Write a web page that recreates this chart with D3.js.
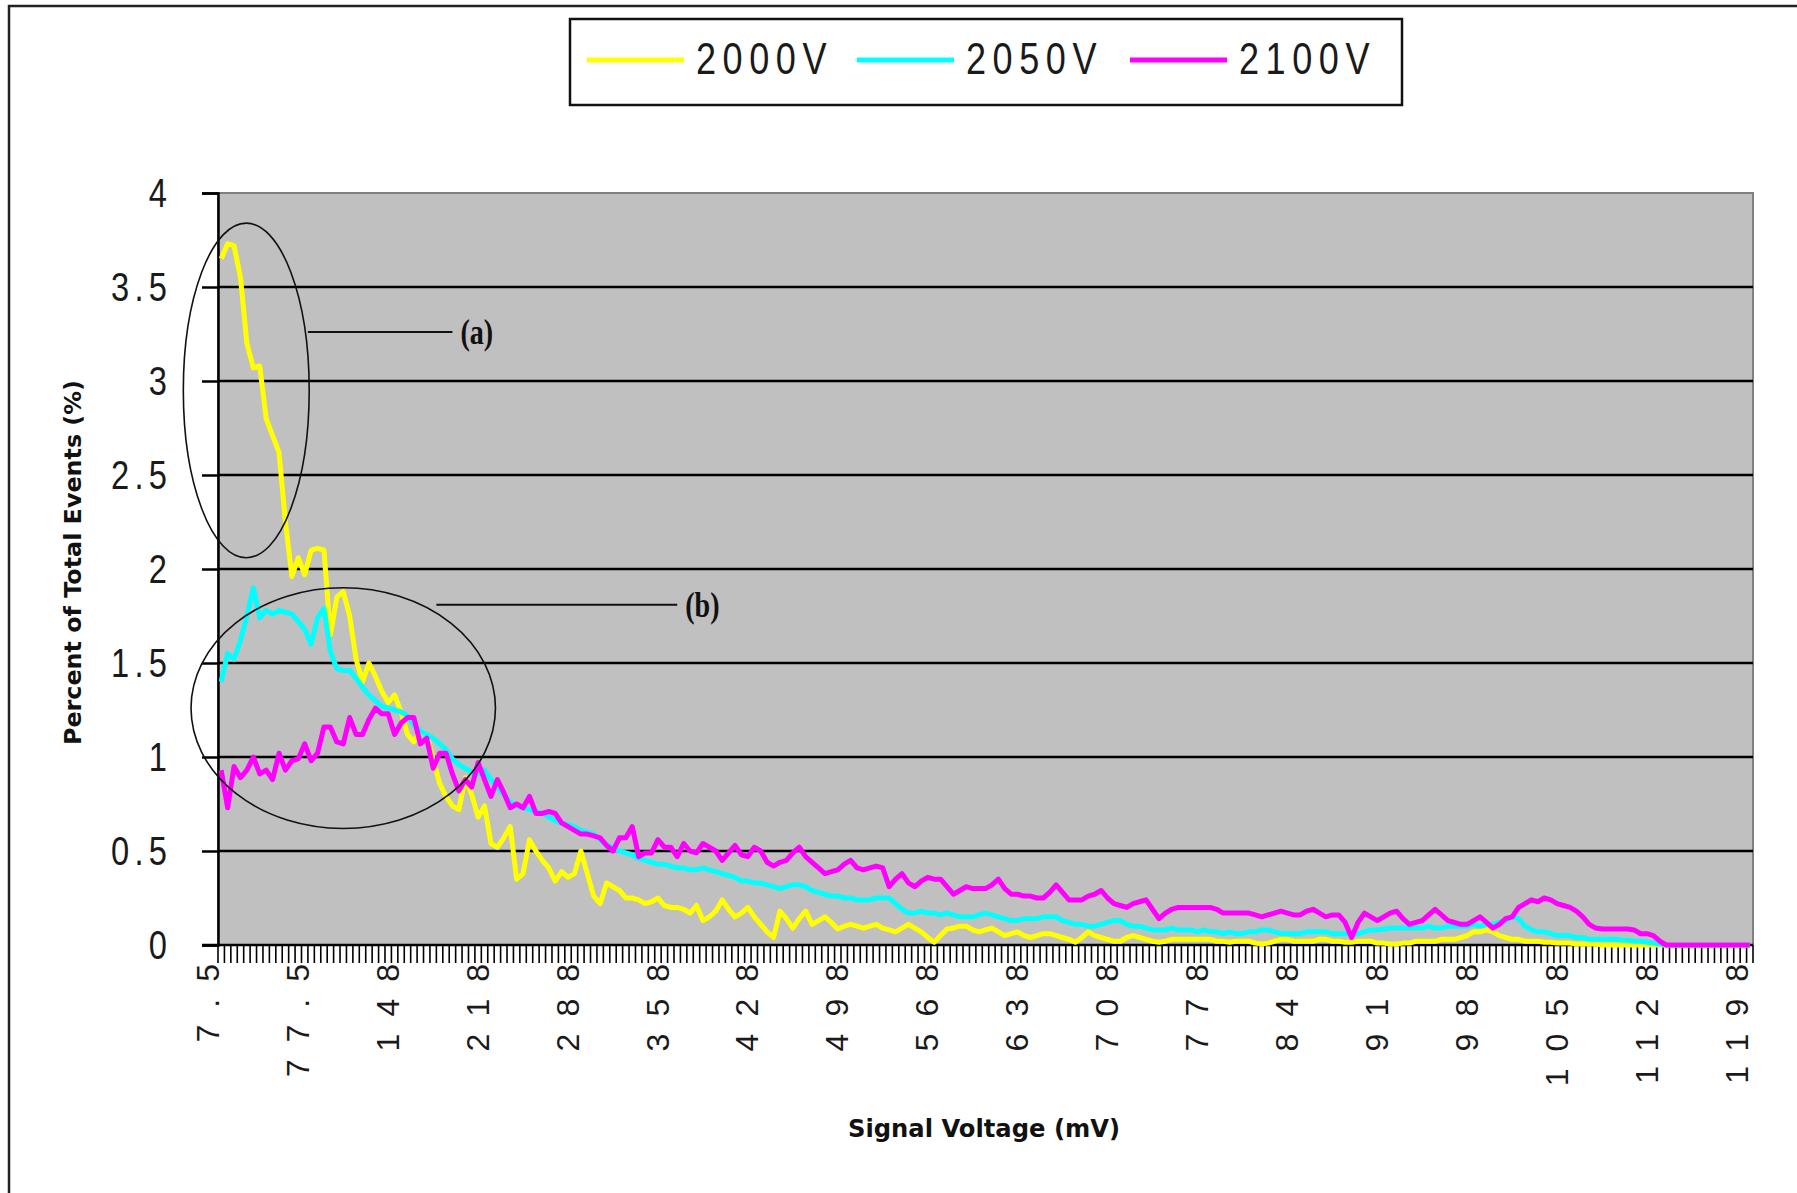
<!DOCTYPE html>
<html>
<head>
<meta charset="utf-8">
<script src="https://cdnjs.cloudflare.com/ajax/libs/d3/7.8.5/d3.min.js"></script>
<style>
  body { margin: 0; background: #fff; }
  svg { display: block; }
</style>
</head>
<body>
<div id="chart"></div>
<script>
// Pulse height spectra - percent of total events per signal voltage bin
const seriesNames = ["2000V", "2050V", "2100V"];
const seriesColors = ["#ffff00", "#00ffff", "#ff00ff"];

// category axis: 239 bins, 7.5 mV to 1197.5 mV in 5 mV steps
const binStart = 7.5, binStep = 5, binCount = 239;
const xTickLabels = ["7.5", "77.5", "148", "218", "288", "358", "428", "498", "568",
    "638", "708", "778", "848", "918", "988", "1058", "1128", "1198"];
const xLabelEvery = 14;
const yTicks = [0, 0.5, 1, 1.5, 2, 2.5, 3, 3.5, 4];
const yTickLabels = ["0", "0.5", "1", "1.5", "2", "2.5", "3", "3.5", "4"];

const v2000 = [
    3.65,3.73,3.72,3.55,3.20,3.07,3.08,2.80,2.71,2.62,
    2.25,1.96,2.06,1.97,2.10,2.11,2.10,1.65,1.85,1.88,
    1.75,1.52,1.40,1.50,1.43,1.35,1.29,1.33,1.24,1.12,
    1.08,1.14,1.12,0.99,0.86,0.79,0.74,0.72,0.89,0.80,
    0.68,0.74,0.54,0.52,0.57,0.63,0.35,0.38,0.56,0.50,
    0.45,0.41,0.34,0.39,0.36,0.38,0.50,0.38,0.26,0.22,
    0.33,0.31,0.29,0.25,0.25,0.24,0.22,0.23,0.25,0.21,
    0.20,0.20,0.19,0.17,0.21,0.13,0.15,0.18,0.24,0.19,
    0.15,0.17,0.20,0.15,0.11,0.07,0.04,0.18,0.14,0.09,
    0.14,0.18,0.11,0.13,0.15,0.12,0.085,0.10,0.11,0.10,
    0.09,0.10,0.11,0.09,0.08,0.07,0.09,0.11,0.09,0.07,
    0.04,0.015,0.05,0.085,0.09,0.10,0.10,0.08,0.07,0.08,
    0.09,0.07,0.05,0.06,0.07,0.05,0.04,0.05,0.06,0.06,
    0.05,0.04,0.03,0.015,0.04,0.07,0.05,0.04,0.03,0.02,
    0.02,0.04,0.05,0.04,0.03,0.02,0.015,0.02,0.03,0.03,
    0.03,0.03,0.03,0.03,0.03,0.02,0.02,0.015,0.02,0.02,
    0.02,0.01,0.005,0.01,0.02,0.03,0.03,0.02,0.02,0.02,
    0.02,0.03,0.03,0.02,0.02,0.015,0.015,0.02,0.02,0.02,
    0.01,0.01,0.005,0.005,0.01,0.01,0.02,0.02,0.02,0.02,
    0.03,0.03,0.03,0.04,0.05,0.07,0.07,0.08,0.07,0.05,
    0.04,0.03,0.03,0.02,0.02,0.02,0.015,0.015,0.01,0.01,
    0.01,0.005,0.005,0.005,0.005,0,0,0,0,0,
    0,0,0,0,0,0,0,0,0,0,
    0,0,0,0,0,0,0,0,0
];

const v2050 = [
    1.40,1.55,1.52,1.62,1.75,1.90,1.74,1.78,1.76,1.78,
    1.77,1.76,1.72,1.68,1.60,1.74,1.79,1.56,1.47,1.46,
    1.46,1.42,1.37,1.33,1.30,1.27,1.26,1.25,1.24,1.22,
    1.17,1.14,1.12,1.10,1.07,1.04,0.99,0.96,0.94,0.92,
    0.91,0.93,0.88,0.84,0.80,0.76,0.74,0.73,0.72,0.71,
    0.70,0.68,0.66,0.65,0.64,0.63,0.61,0.60,0.59,0.56,
    0.53,0.52,0.50,0.49,0.48,0.46,0.45,0.44,0.43,0.43,
    0.42,0.41,0.41,0.40,0.40,0.41,0.40,0.39,0.38,0.37,
    0.36,0.34,0.34,0.33,0.33,0.32,0.31,0.30,0.31,0.32,
    0.32,0.31,0.29,0.28,0.27,0.26,0.26,0.25,0.25,0.24,
    0.24,0.24,0.25,0.25,0.25,0.22,0.19,0.17,0.17,0.18,
    0.17,0.17,0.16,0.17,0.16,0.15,0.15,0.15,0.16,0.17,
    0.16,0.15,0.14,0.13,0.13,0.14,0.14,0.14,0.15,0.15,
    0.15,0.13,0.12,0.11,0.11,0.10,0.10,0.11,0.12,0.13,
    0.13,0.11,0.10,0.10,0.09,0.08,0.08,0.08,0.09,0.08,
    0.08,0.08,0.07,0.08,0.07,0.07,0.06,0.07,0.06,0.06,
    0.07,0.07,0.08,0.08,0.07,0.06,0.06,0.06,0.06,0.07,
    0.07,0.07,0.07,0.06,0.06,0.06,0.06,0.06,0.07,0.08,
    0.08,0.085,0.09,0.09,0.09,0.09,0.09,0.09,0.10,0.09,
    0.09,0.10,0.10,0.10,0.10,0.11,0.10,0.11,0.11,0.12,
    0.13,0.15,0.14,0.10,0.08,0.07,0.07,0.06,0.05,0.05,
    0.05,0.04,0.04,0.03,0.03,0.03,0.03,0.03,0.027,0.025,
    0.02,0.02,0.015,0.01,0.005,0,0,0,0,0,
    0,0,0,0,0,0,0,0,0
];

const v2100 = [
    0.93,0.73,0.95,0.89,0.93,1.00,0.91,0.93,0.88,1.02,
    0.93,0.98,0.99,1.07,0.98,1.02,1.16,1.16,1.08,1.07,
    1.21,1.12,1.12,1.20,1.26,1.23,1.23,1.12,1.18,1.21,
    1.21,1.07,1.10,0.94,1.02,1.02,0.91,0.82,0.88,0.84,
    0.97,0.88,0.79,0.88,0.81,0.73,0.75,0.73,0.79,0.70,
    0.70,0.71,0.70,0.65,0.63,0.61,0.59,0.59,0.58,0.57,
    0.53,0.50,0.57,0.57,0.63,0.47,0.49,0.49,0.56,0.52,
    0.52,0.47,0.54,0.50,0.49,0.54,0.52,0.50,0.45,0.49,
    0.53,0.48,0.47,0.52,0.50,0.44,0.42,0.44,0.45,0.49,
    0.52,0.47,0.44,0.41,0.38,0.39,0.40,0.43,0.45,0.41,
    0.40,0.41,0.42,0.41,0.31,0.35,0.38,0.33,0.31,0.34,
    0.36,0.35,0.35,0.31,0.27,0.29,0.31,0.30,0.30,0.30,
    0.32,0.35,0.30,0.27,0.27,0.26,0.26,0.25,0.25,0.28,
    0.32,0.28,0.24,0.24,0.24,0.26,0.27,0.29,0.25,0.22,
    0.21,0.20,0.22,0.23,0.24,0.19,0.14,0.17,0.19,0.20,
    0.20,0.20,0.20,0.20,0.20,0.19,0.17,0.17,0.17,0.17,
    0.17,0.16,0.15,0.16,0.17,0.18,0.17,0.16,0.16,0.18,
    0.19,0.17,0.15,0.16,0.16,0.12,0.04,0.12,0.17,0.15,
    0.13,0.15,0.17,0.18,0.14,0.11,0.12,0.13,0.16,0.19,
    0.16,0.13,0.12,0.11,0.11,0.13,0.15,0.12,0.09,0.11,
    0.14,0.15,0.20,0.22,0.24,0.23,0.25,0.24,0.22,0.21,
    0.20,0.18,0.15,0.11,0.09,0.085,0.085,0.085,0.085,0.085,
    0.08,0.06,0.06,0.05,0.02,0,0,0,0,0,
    0,0,0,0,0,0,0,0,0
];

// annotation ellipses, in data units (bin index, percent)
const notes = [
    { label: "(a)", cx: 3.9, cy: 2.95, rx: 9.8, ry: 0.89, lineAt: 3.26, lineX0: 14.0, lineX1: 36.5 },
    { label: "(b)", cx: 19.0, cy: 1.26, rx: 23.7, ry: 0.64, lineAt: 1.81, lineX0: 34.0, lineX1: 71.5 }
];

const W = 1797, H = 1193;
const plot = { left: 218, top: 193, right: 1753, bottom: 945 };
const tickFont = "'Liberation Sans', Arial, sans-serif";

const svg = d3.select("#chart").append("svg")
    .attr("width", W).attr("height", H)
    .attr("viewBox", `0 0 ${W} ${H}`);

// outer frame (right and bottom edges fall outside the picture)
svg.append("rect")
    .attr("x", 9).attr("y", 6)
    .attr("width", 1810).attr("height", 1210)
    .attr("fill", "#fff").attr("stroke", "#222").attr("stroke-width", 2.5);

const bins = d3.range(binCount).map(i => binStart + i * binStep);

const x = d3.scaleBand()
    .domain(d3.range(binCount))
    .range([plot.left, plot.right])
    .paddingInner(0).paddingOuter(0);
const bw = x.bandwidth();
const cx = i => x(i) + bw / 2;

const y = d3.scaleLinear().domain([0, 4]).range([plot.bottom, plot.top]);

// plot background
svg.append("rect")
    .attr("x", plot.left).attr("y", plot.top)
    .attr("width", plot.right - plot.left).attr("height", plot.bottom - plot.top)
    .attr("fill", "#c0c0c0").attr("stroke", "#808080").attr("stroke-width", 2);

// gridlines
svg.append("g").selectAll("line")
    .data(yTicks.filter(t => t > 0 && t < 4))
    .join("line")
    .attr("x1", plot.left).attr("x2", plot.right)
    .attr("y1", d => y(d)).attr("y2", d => y(d))
    .attr("stroke", "#000").attr("stroke-width", 2.5);

// y axis
const yAxis = svg.append("g")
    .attr("transform", `translate(${plot.left},0)`)
    .call(d3.axisLeft(y).tickValues(yTicks).tickSize(16).tickFormat(""));
yAxis.select(".domain").attr("stroke", "#000").attr("stroke-width", 2.5);
yAxis.selectAll(".tick line").attr("stroke", "#000").attr("stroke-width", 2.5);
svg.append("g").selectAll("text")
    .data(yTicks)
    .join("text")
    .attr("transform", d => `translate(172,${y(d) + 14}) scale(0.86,1.06)`)
    .attr("text-anchor", "end")
    .attr("font-family", tickFont)
    .attr("font-size", 38)
    .attr("letter-spacing", 6)
    .attr("fill", "#1a1a1a")
    .text((d, k) => yTickLabels[k]);

// x axis: tick at each bin boundary, label every 14 bins
const xAxisG = svg.append("g");
xAxisG.append("line")
    .attr("x1", plot.left - 16).attr("x2", plot.right)
    .attr("y1", plot.bottom).attr("y2", plot.bottom)
    .attr("stroke", "#000").attr("stroke-width", 2.5);
xAxisG.selectAll("line.tk")
    .data(d3.range(binCount + 1))
    .join("line")
    .attr("class", "tk")
    .attr("x1", d => plot.left + d * bw).attr("x2", d => plot.left + d * bw)
    .attr("y1", plot.bottom).attr("y2", plot.bottom + 18)
    .attr("stroke", "#000").attr("stroke-width", 1.6);
xAxisG.selectAll("text")
    .data(xTickLabels)
    .join("text")
    .attr("transform", (d, k) => `translate(${x(k * xLabelEvery) + 1},${plot.bottom + 2}) rotate(-90)`)
    .attr("text-anchor", "end")
    .attr("font-family", tickFont)
    .attr("font-size", 32)
    .attr("letter-spacing", 17)
    .attr("fill", "#1a1a1a")
    .text(d => d);

// series lines
const series = [v2000, v2050, v2100];
const line = d3.line().x((d, i) => cx(i)).y(d => y(d));
svg.append("g").selectAll("path")
    .data(series)
    .join("path")
    .attr("d", d => line(d))
    .attr("fill", "none")
    .attr("stroke", (d, k) => seriesColors[k])
    .attr("stroke-width", 5)
    .attr("stroke-linejoin", "round");

// annotations
const xs = d3.scaleLinear().domain([0, binCount]).range([plot.left, plot.right]);
const noteG = svg.append("g");
notes.forEach(n => {
    noteG.append("ellipse")
        .attr("cx", xs(n.cx + 0.5)).attr("cy", y(n.cy))
        .attr("rx", xs(n.rx) - plot.left).attr("ry", y(0) - y(n.ry))
        .attr("fill", "none").attr("stroke", "#111").attr("stroke-width", 1.6);
    noteG.append("line")
        .attr("x1", xs(n.lineX0)).attr("x2", xs(n.lineX1))
        .attr("y1", y(n.lineAt)).attr("y2", y(n.lineAt))
        .attr("stroke", "#111").attr("stroke-width", 2);
    noteG.append("text")
        .attr("transform", `translate(${xs(n.lineX1) + 8},${y(n.lineAt) + 12}) scale(0.78,1)`)
        .attr("font-family", "'Liberation Serif', 'Times New Roman', serif")
        .attr("font-weight", "bold")
        .attr("font-size", 36)
        .attr("fill", "#111")
        .text(n.label);
});

// axis titles
svg.append("text")
    .attr("x", 848).attr("y", 1137)
    .attr("textLength", 272).attr("lengthAdjust", "spacingAndGlyphs")
    .attr("font-family", "'DejaVu Sans', sans-serif")
    .attr("font-weight", "bold")
    .attr("font-size", 24)
    .attr("fill", "#111")
    .text("Signal Voltage (mV)");

svg.append("text")
    .attr("transform", `translate(81,745) rotate(-90)`)
    .attr("textLength", 365).attr("lengthAdjust", "spacingAndGlyphs")
    .attr("font-family", "'DejaVu Sans', sans-serif")
    .attr("font-weight", "bold")
    .attr("font-size", 23)
    .attr("fill", "#111")
    .text("Percent of Total Events (%)");

// legend
const legend = svg.append("g");
legend.append("rect")
    .attr("x", 570).attr("y", 19).attr("width", 832).attr("height", 86)
    .attr("fill", "#fff").attr("stroke", "#111").attr("stroke-width", 2.5);
const legendX = [587, 857, 1130];
seriesNames.forEach((name, k) => {
    legend.append("line")
        .attr("x1", legendX[k]).attr("x2", legendX[k] + 97)
        .attr("y1", 60).attr("y2", 60)
        .attr("stroke", seriesColors[k]).attr("stroke-width", 5);
    legend.append("text")
        .attr("transform", `translate(${legendX[k] + 109},74) scale(0.82,1)`)
        .attr("font-family", tickFont)
        .attr("font-size", 44)
        .attr("letter-spacing", 8)
        .attr("fill", "#1a1a1a")
        .text(name);
});
</script>
</body>
</html>
